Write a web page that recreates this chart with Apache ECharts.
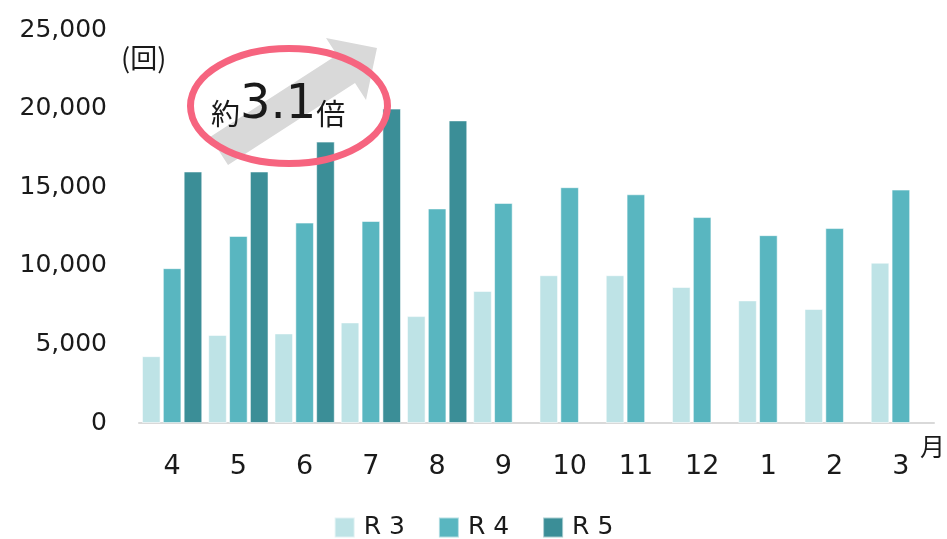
<!DOCTYPE html>
<html>
<head>
<meta charset="utf-8">
<script src="https://cdn.jsdelivr.net/npm/echarts@6/dist/echarts.min.js"></script>
<style>
html,body{margin:0;padding:0;background:#fff;}
#c{width:947px;height:539px;}
</style>
</head>
<body>
<div id="c"></div>
<script>
var months = ['4','5','6','7','8','9','10','11','12','1','2','3'];
var seriesNames = ['R 3','R 4','R 5'];
var r3 = [4250, 5600, 5700, 6400, 6800, 8400, 9400, 9400, 8650, 7800, 7250, 10200];
var r4 = [9850, 11900, 12750, 12850, 13650, 14000, 15000, 14550, 13100, 11950, 12400, 14850];
var r5 = [16000, 16000, 17900, 20000, 19250, null, null, null, null, null, null, null];
var yTicks = [0, 5000, 10000, 15000, 20000, 25000];

var colors = ['#bee3e6', '#59b6c0', '#3b8e97'];
var chart = echarts.init(document.getElementById('c'));
var font = '"DejaVu Sans", Verdana, sans-serif';
var cjk = '"Noto Sans CJK JP", "Noto Sans", sans-serif';

function mk(name, data, i) {
  return {
    name: name, type: 'bar', data: data,
    barCategoryGap: '9%', barGap: '12%',
    itemStyle: { color: colors[i], borderColor: 'rgba(255,255,255,0.55)', borderWidth: 1 },
    z: 2
  };
}

chart.setOption({
  animation: false,
  textStyle: { fontFamily: font },
  grid: { left: 139, right: 13, top: 30, bottom: 116, containLabel: false },
  legend: {
    data: seriesNames, left: 'center', top: 510,
    itemWidth: 20, itemHeight: 20, itemGap: 33,
    icon: 'rect',
    textStyle: { fontSize: 25, color: '#1a1a1a', fontFamily: font, padding: [0,0,0,4] }
  },
  xAxis: {
    type: 'category', data: months,
    axisLine: { lineStyle: { color: '#d9d9d9', width: 2 } },
    axisTick: { show: false },
    axisLabel: { fontSize: 27, color: '#1a1a1a', margin: 30, fontFamily: font }
  },
  yAxis: {
    type: 'value', min: yTicks[0], max: yTicks[yTicks.length-1], interval: yTicks[1]-yTicks[0],
    axisLine: { show: false }, axisTick: { show: false }, splitLine: { show: false },
    axisLabel: {
      fontSize: 25, color: '#1a1a1a', margin: 32, fontFamily: font,
      formatter: function (v) { return v.toLocaleString('en-US'); }
    }
  },
  series: [mk(seriesNames[0], r3, 0), mk(seriesNames[1], r4, 1), mk(seriesNames[2], r5, 2)],
  graphic: [
    { type: 'text', left: 121, top: 44, z: 10,
      style: { text: '(回)', fontSize: 27, fill: '#1a1a1a', fontFamily: cjk } },
    { type: 'text', left: 920, top: 434, z: 10,
      style: { text: '月', fontSize: 25, fill: '#1a1a1a', fontFamily: cjk } },
    { type: 'polygon', z: 10,
      shape: { points: [[210,137],[228,165],[355,83],[366,100],[377,48],[326,38],[337,55]] },
      style: { fill: '#d9d9d9' } },
    { type: 'ellipse', z: 11,
      shape: { cx: 289, cy: 106, rx: 98.5, ry: 57.5 },
      style: { fill: 'none', stroke: '#f6647f', lineWidth: 7 } },
    { type: 'text', z: 12, left: 211, top: 82,
      style: {
        text: '{a|約}{b|3.1}{a|倍}',
        rich: {
          a: { fontSize: 29, fontFamily: cjk, fill: '#1a1a1a', verticalAlign: 'bottom', padding: [0,0,2,0] },
          b: { fontSize: 48, fontFamily: font, fill: '#1a1a1a', verticalAlign: 'bottom' }
        }
      } }
  ]
});
</script>
</body>
</html>
